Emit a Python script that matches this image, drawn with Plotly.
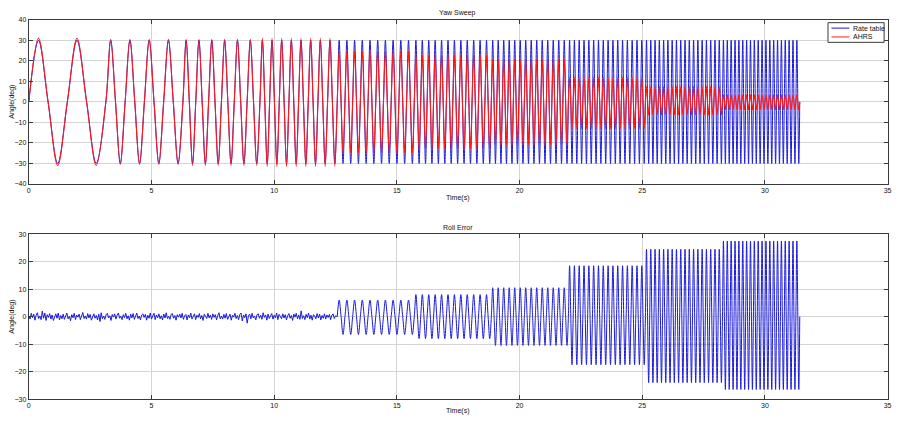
import plotly.graph_objects as go

# ---------------- data ----------------
# stepped-frequency sweep: segment boundaries (s) and full cycles counted per segment
seg_edges = [0.0, 3.14, 6.28, 9.42, 12.57, 15.71, 18.85, 21.99, 25.13, 28.27, 31.42]
seg_cycles = [2, 4, 6, 8, 10, 12, 14, 16, 18, 20]

# Yaw sweep: peak / trough values per segment
rate_pos = [30, 30, 30, 30, 30, 30, 30, 30, 30, 30]
rate_neg = [-30, -30, -30, -30, -30, -30, -30, -30, -30, -30]
ahrs_pos = [31, 30.5, 30.5, 31, 25, 23, 21, 12, 7.5, 3.5]
ahrs_neg = [-31, -30.5, -31, -31.5, -25, -23, -21, -13, -6.5, -4]

# Roll error: peaks / troughs of the oscillating part (segments 5..10)
roll_pos = [6, 8, 10.5, 18.5, 24.5, 27.5]
roll_neg = [-6.5, -8, -10.5, -17.5, -24, -26.5]
# Roll error noise before the sweep, one value every 0.05 s from 0 to 12.5 s
roll_noise_dt = 0.05
roll_noise = [
    0.3, -0.9, 1.2, -0.4, 0.9, -1.3, 0.5, 1.4, -0.7, 0.2,
    -1.1, 2.0, -0.6, 1.3, -1.4, 0.7, -0.3, 1.1, -0.9, 0.6,
    -1.4, 0.3, 1.0, -0.6, 1.3, -1.2, 0.4, -0.8, 0.9, -1.0,
    0.5, 1.3, -0.8, 0.1, -1.5, 0.7, -0.4, 1.2, -1.1, 0.6,
    -0.2, 0.9, -1.1, 0.4, 1.5, -0.7, 0.2, -0.9, 1.1, -0.5,
    0.8, -1.3, 0.3, 1.0, -0.6, 0.4, -1.2, 0.9, -1.8, 1.4,
    -0.8, 0.2, -1.0, 0.7, 1.2, -0.5, 0.3, -1.4, 0.8, -0.2,
    1.0, -0.9, 0.5, 1.3, -0.6, 0.1, -1.1, 0.7, -0.4, 1.2,
    -0.8, 0.3, -1.3, 0.9, -0.5, 1.1, -1.0, 0.4, 1.3, -0.7,
    0.2, -1.2, 0.6, 1.0, -0.3, 0.8, -1.3, 0.5, -0.6, 1.3,
    -0.9, 0.2, 1.2, -1.1, 0.6, -0.4, 1.0, -0.8, 0.3, -1.2,
    0.9, -0.5, 1.4, -0.7, 0.1, -1.0, 0.8, 1.1, -0.6, 0.4,
    -1.3, 0.7, -0.2, 0.9, -0.5, 1.2, -1.0, 0.3, 0.8, -1.2,
    0.6, -0.4, 1.3, -0.9, 0.2, 1.0, -1.1, 0.5, -0.3, 1.1,
    -0.8, 0.4, -1.4, 0.9, 0.1, -0.7, 1.2, -0.5, 0.6, -1.0,
    1.0, -0.3, 0.7, -1.2, 0.4, 1.4, -0.8, 0.2, -0.9, 0.8,
    -0.6, 1.1, -1.0, 0.3, 0.9, -1.3, 0.5, -0.2, 1.2, -0.7,
    0.4, -1.1, 0.8, 1.3, -1.6, 0.6, -0.4, 1.0, -2.4, 0.3,
    0.9, -0.8, 1.2, -0.5, 0.2, -1.2, 0.7, 1.0, -0.6, 0.5,
    -1.0, 1.4, -0.3, 0.6, -1.3, 0.9, -0.7, 0.2, 1.1, -0.9,
    0.5, -0.4, 1.3, -1.1, 0.8, 0.1, -0.8, 1.0, -0.5, 0.7,
    -1.2, 0.3, 1.1, -0.6, 0.4, -1.4, 0.9, -0.2, 1.2, -0.8,
    0.6, -1.0, 2.1, -0.7, 0.3, -1.1, 0.8, -0.4, 1.3, -0.9,
    0.5, -1.3, 0.7, 0.2, -0.8, 1.1, -0.5, 0.9, -1.2, 0.4,
    -0.6, 1.0, -0.9, 0.6, -0.3, 0.8, -1.1, 0.5, 1.0, -0.7,
    0.3,
]

x_ticks = [0, 5, 10, 15, 20, 25, 30, 35]
yaw_ticks = [-40, -30, -20, -10, 0, 10, 20, 30, 40]
roll_ticks = [-30, -20, -10, 0, 10, 20, 30]
legend_names = ["Rate table", "AHRS"]


def turning_points(segments, pos, neg):
    """Zero-crossings and extrema of each counted cycle; the curve between them
    is drawn by Plotly's spline line shape."""
    t, y = [], []
    for i, k in enumerate(segments):
        t0, t1 = seg_edges[k], seg_edges[k + 1]
        n = seg_cycles[k]
        q = (t1 - t0) / (4 * n)
        for c in range(n):
            b = t0 + 4 * q * c
            t += [b, b + q, b + 2 * q, b + 3 * q]
            y += [0, pos[i], 0, neg[i]]
    t.append(seg_edges[segments[-1] + 1])
    y.append(0)
    return t, y


all_segs = list(range(10))
rate_t, rate_y = turning_points(all_segs, rate_pos, rate_neg)
ahrs_t, ahrs_y = turning_points(all_segs, ahrs_pos, ahrs_neg)

noise_t = [i * roll_noise_dt for i in range(len(roll_noise))] + [seg_edges[4]]
noise_y = roll_noise + [0]
osc_t, osc_y = turning_points(list(range(4, 10)), roll_pos, roll_neg)

# ---------------- figure ----------------
W, H = 907, 424
FONT = "Liberation Sans"
BLUE = "#1a1adc"
RED = "#ff1a1a"
AX = "#3a3a3a"

fig = go.Figure()
fig.add_trace(go.Scatter(x=rate_t, y=rate_y, mode="lines", name=legend_names[0],
                         line=dict(color=BLUE, width=1, shape="spline"),
                         xaxis="x", yaxis="y"))
fig.add_trace(go.Scatter(x=ahrs_t, y=ahrs_y, mode="lines", name=legend_names[1],
                         line=dict(color=RED, width=1.1, shape="spline"),
                         xaxis="x", yaxis="y"))
fig.add_trace(go.Scatter(x=noise_t, y=noise_y, mode="lines",
                         line=dict(color=BLUE, width=1),
                         xaxis="x2", yaxis="y2"))
fig.add_trace(go.Scatter(x=osc_t, y=osc_y, mode="lines",
                         line=dict(color=BLUE, width=1, shape="spline"),
                         xaxis="x2", yaxis="y2"))


def px_x(p):
    return p / W


def px_y(p):
    return 1 - p / H


axis_common = dict(
    showline=True, linecolor=AX, linewidth=1, mirror="ticks",
    ticks="inside", ticklen=4, tickcolor=AX, tickwidth=1,
    showgrid=True, gridcolor="#d4d4d4", gridwidth=1,
    zeroline=False, tickfont=dict(family=FONT, size=7, color="#111"),
)

xdom = [px_x(27), px_x(891.5)]
fig.update_layout(
    width=W, height=H,
    margin=dict(l=0, r=0, t=0, b=0),
    paper_bgcolor="white", plot_bgcolor="white",
    font=dict(family=FONT, size=7, color="#111"),
    xaxis=dict(domain=xdom, anchor="y", range=[0, 35], tickvals=x_ticks, **axis_common),
    yaxis=dict(domain=[px_y(183), px_y(16)], anchor="x", range=[-40, 40],
               tickvals=yaw_ticks, **axis_common),
    xaxis2=dict(domain=xdom, anchor="y2", range=[0, 35], tickvals=x_ticks, **axis_common),
    yaxis2=dict(domain=[px_y(401.7), px_y(234)], anchor="x2", range=[-30, 30],
                tickvals=roll_ticks, **axis_common),
    showlegend=False,
)

ann = [
    ("Yaw Sweep", 459, 9, 0),
    ("Time(s)", 459, 197, 0),
    ("Angle(deg)", 10, 99.5, -90),
    ("Roll Error", 459, 227, 0),
    ("Time(s)", 459, 414, 0),
    ("Angle(deg)", 10, 318, -90),
]
for text, x, y, ang in ann:
    fig.add_annotation(text=text, x=px_x(x), y=px_y(y), xref="paper", yref="paper",
                       showarrow=False, textangle=ang,
                       font=dict(family=FONT, size=7, color="#111"),
                       xanchor="center", yanchor="middle")

# legend box (MATLAB style, compact)
fig.add_shape(type="rect", xref="paper", yref="paper",
              x0=px_x(831.5), x1=px_x(888), y0=px_y(39), y1=px_y(19),
              line=dict(color=AX, width=1), fillcolor="white", layer="above")
for name, color, yy in [(legend_names[0], BLUE, 24.5), (legend_names[1], RED, 33.5)]:
    fig.add_shape(type="line", xref="paper", yref="paper",
                  x0=px_x(835), x1=px_x(853), y0=px_y(yy), y1=px_y(yy),
                  line=dict(color=color, width=1), layer="above")
    fig.add_annotation(text=name, x=px_x(855), y=px_y(yy), xref="paper", yref="paper",
                       showarrow=False, xanchor="left", yanchor="middle",
                       font=dict(family=FONT, size=7, color="#111"))

fig.write_html("out.html")
